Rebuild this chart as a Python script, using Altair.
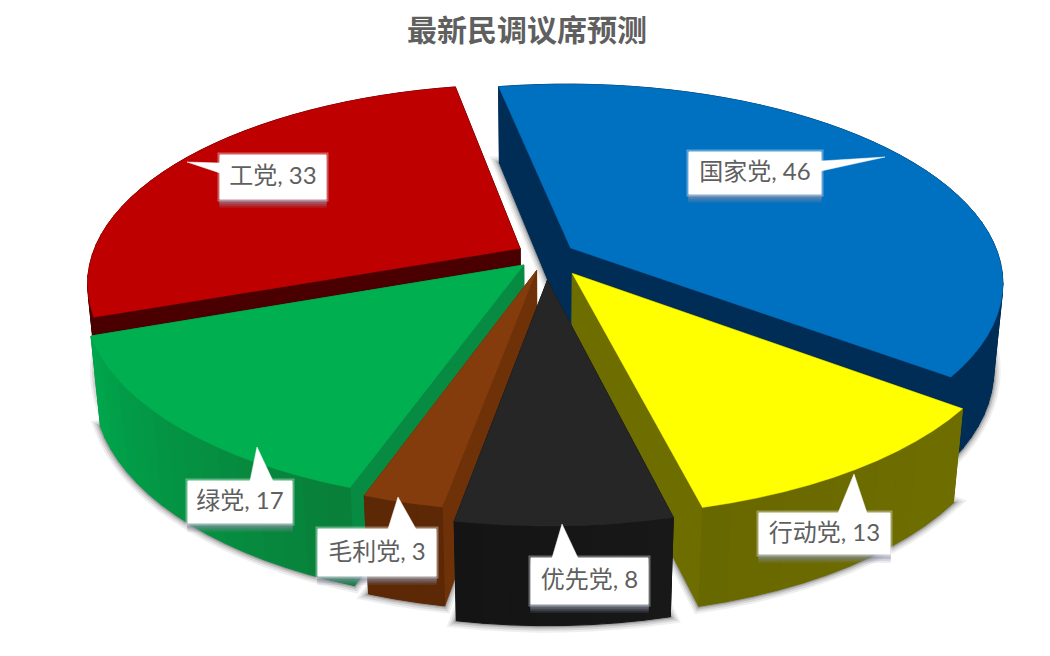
import math
import altair as alt

# ---- chart values
PARTIES = ["国家党", "行动党", "优先党", "毛利党", "绿党", "工党"]
SEATS = [46, 13, 8, 3, 17, 33]
TITLE = "最新民调议席预测"

# ---- styles
TOP = ["#0070C0", "#FFFF00", "#262626", "#843C0C", "#00B050", "#BE0000"]
RADIAL = ["#002D56", "#6E6E00", "#1A1A1A", "#6E3108", "#078A42", "#4A0000"]
OUTER_A = [(0, 45, 86), (110, 110, 0), (24, 24, 24), (92, 40, 5), (9, 128, 58), (74, 0, 0)]
OUTER_B = [(0, 45, 86), (104, 104, 0), (20, 20, 20), (92, 40, 5), (0, 166, 76), (74, 0, 0)]
EXPLODE = [0.069, 0.112, 0.128, 0.082, 0.072, 0.069]
TEXT_GREY = "#5F5F5F"
FONT = "Lato, 'Noto Sans CJK SC', sans-serif"

# ---- 3D pie model
START = -10.8
CX, CY, RX, RY, DEPTH = 545.6, 254.0, 428.0, 194.0, 88.0
PERSP, PERSP_Z = 0.1705, 0.02
STEP = 3.0

# ---- callout layout (annotation boxes: x0, y0, x1, y1, tip, base of pointer)
CALLOUTS = {
    "国家党": (689, 151, 821, 193, (885, 156), (821, 160), (821, 170)),
    "行动党": (759, 512, 890, 553, (854, 473), (838, 512), (867, 512)),
    "优先党": (531, 557, 648, 603, (562, 523), (552, 557), (578, 557)),
    "毛利党": (318, 528, 436, 575, (398, 496), (388, 528), (416, 528)),
    "绿党": (188, 480, 292, 522, (257, 446), (250, 480), (273, 480)),
    "工党": (220, 154, 326, 198, (187, 161), (220, 162), (220, 172)),
}
PAINT_ORDER = [0, 5, 4, 1, 3, 2]


def proj(x, y, z):
    f = 1.0 / (1.0 - PERSP * y + PERSP_Z * z)
    return [CX + x * RX * f, CY + (y * RY + z * DEPTH) * f]


def feature(ring, fill, stroke=None, sw=1.0, op=1.0):
    ring = [list(p) for p in ring]
    if ring[0] != ring[-1]:
        ring.append(ring[0])
    return {
        "type": "Feature",
        "geometry": {"type": "Polygon", "coordinates": [ring]},
        "properties": {"fill": fill, "stroke": stroke or fill, "sw": sw, "op": op},
    }


def mix(a, b, t):
    return "#%02x%02x%02x" % tuple(round(a[k] + (b[k] - a[k]) * t) for k in range(3))


total = sum(SEATS)
spans = []
acc = START
for v in SEATS:
    spans.append((acc, acc + v * 360.0 / total))
    acc += v * 360.0 / total

features = []
for i in PAINT_ORDER:
    a0, a1 = spans[i]
    mid = math.radians((a0 + a1) / 2)
    ex, ey = EXPLODE[i] * math.sin(mid), -EXPLODE[i] * math.cos(mid)
    n = max(2, int((a1 - a0) / STEP))
    angles = [math.radians(a0 + (a1 - a0) * k / n) for k in range(n + 1)]
    rim = [(ex + math.sin(t), ey - math.cos(t)) for t in angles]

    def face(z):
        return [proj(ex, ey, z)] + [proj(x, y, z) for x, y in rim]

    # soft shadow below the slice
    for sw, op in [(14, 0.06), (10, 0.09), (6, 0.13), (3, 0.18)]:
        features.append(feature(face(1), "#000000", "#000000", sw, op))
    # radial walls
    for x, y in (rim[0], rim[-1]):
        features.append(feature(
            [proj(ex, ey, 0), proj(x, y, 0), proj(x, y, 1), proj(ex, ey, 1)], RADIAL[i]))
    # outer wall
    for k in range(n):
        (x0, y0), (x1, y1) = rim[k], rim[k + 1]
        features.append(feature(
            [proj(x0, y0, 0), proj(x1, y1, 0), proj(x1, y1, 1), proj(x0, y0, 1)],
            mix(OUTER_A[i], OUTER_B[i], k / max(1, n - 1))))
    # top face
    features.append(feature(face(0), TOP[i], sw=0.5))

labels = []
for name, v in zip(PARTIES, SEATS):
    x0, y0, x1, y1, tip, b0, b1 = CALLOUTS[name]
    rect = [(x0, y0), (x1, y0), (x1, y1), (x0, y1)]
    for d, op in [(8, 0.18), (6, 0.25), (4, 0.35)]:
        features.append(feature([(x0, y0 + d), (x1, y0 + d), (x1, y1 + d), (x0, y1 + d)],
                                "#8a90a8", "#8a90a8", 1.5, op))
    features.append(feature(rect, "#FFFFFF", "#FFFFFF", 5, 0.35))
    features.append(feature([tip, b0, b1], "#FFFFFF", "#FFFFFF", 0.5, 1.0))
    features.append(feature(rect, "#FFFFFF", "#FFFFFF", 1, 1.0))
    labels.append({"text": f"{name}, {v}", "lon": (x0 + x1) / 2, "lat": (y0 + y1) / 2})

W, H = 1034, 590
TITLE_BAND = 44

shapes = alt.Chart(alt.InlineData(
    values={"type": "FeatureCollection", "features": features},
    format=alt.DataFormat(type="json", property="features"),
)).mark_geoshape().encode(
    fill=alt.Fill("properties.fill:N", scale=None),
    stroke=alt.Stroke("properties.stroke:N", scale=None),
    strokeWidth=alt.StrokeWidth("properties.sw:Q", scale=None),
    opacity=alt.Opacity("properties.op:Q", scale=None),
)

texts = alt.Chart(alt.Data(values=labels)).mark_text(
    font=FONT, fontSize=24, color=TEXT_GREY, align="center", baseline="middle",
).encode(
    longitude="lon:Q", latitude="lat:Q", text="text:N",
)

chart = alt.layer(shapes, texts).project(
    type="identity", scale=1, translate=[-8, -8 - TITLE_BAND],
).properties(
    width=W, height=H,
    padding={"left": 0, "right": 0, "top": 9, "bottom": 0},
    title=alt.TitleParams(TITLE, font=FONT, fontSize=30, fontWeight="bold",
                          color=TEXT_GREY, anchor="middle", dx=2, offset=6),
).configure_view(stroke=None)

chart.save("out.html", embed_options={"renderer": "svg", "actions": False})
